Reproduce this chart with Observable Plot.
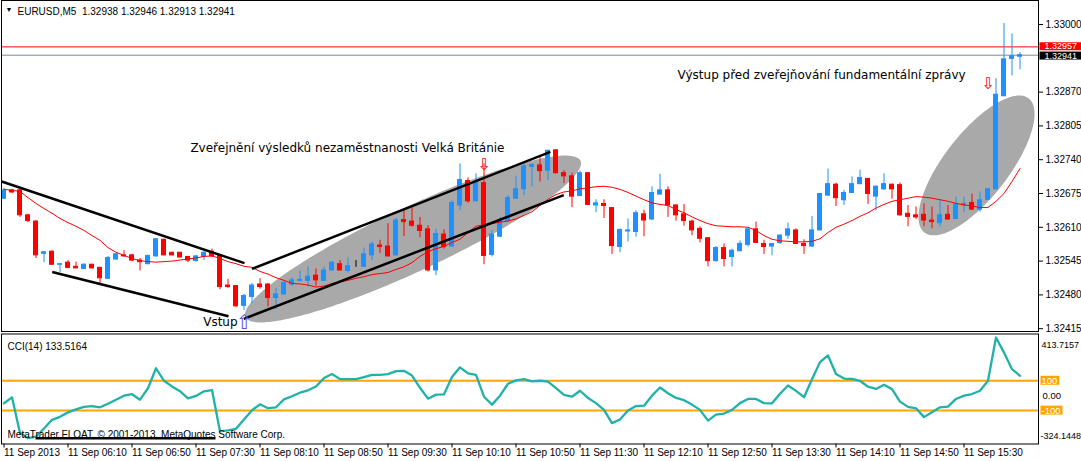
<!DOCTYPE html>
<html><head><meta charset="utf-8">
<script src="https://cdn.jsdelivr.net/npm/d3@7"></script>
<script src="https://cdn.jsdelivr.net/npm/@observablehq/plot@0.6"></script>
<style>
body{margin:0;background:#fff;}
#chart{width:1081px;height:461px;position:relative;overflow:hidden;background:#fff;}
#chart svg{display:block;}
</style></head><body><div id="chart"></div>
<script>
// ---------- DATA ----------
const symbolHeader = "EURUSD,M5\u00a0\u00a01.32938 1.32946 1.32913 1.32941";
const timeLabels = ["11 Sep 2013","11 Sep 06:10","11 Sep 06:50","11 Sep 07:30","11 Sep 08:10","11 Sep 08:50","11 Sep 09:30","11 Sep 10:10","11 Sep 10:50","11 Sep 11:30","11 Sep 12:10","11 Sep 12:50","11 Sep 13:30","11 Sep 14:10","11 Sep 14:50","11 Sep 15:30"];
const timeLabelBars = [0,8,16,24,32,40,48,56,64,72,80,88,96,104,112,120];
const priceTicks = [1.33000,1.32870,1.32805,1.32740,1.32675,1.32610,1.32545,1.32480,1.32415];
const askPrice = 1.32957;
const bidPrice = 1.32941;

const open = [1.32665,1.32681,1.32681,1.32633,1.32621,1.32559,1.32563,1.32538,1.32542,1.32534,1.32530,1.32538,1.32532,1.32511,1.32548,1.32556,1.32556,1.32546,1.32539,1.32554,1.32586,1.32561,1.32561,1.32553,1.32545,1.32553,1.32563,1.32556,1.32498,1.32497,1.32459,1.32476,1.32500,1.32500,1.32474,1.32481,1.32500,1.32507,1.32507,1.32517,1.32507,1.32527,1.32539,1.32526,1.32534,1.32534,1.32556,1.32575,1.32573,1.32556,1.32624,1.32621,1.32613,1.32606,1.32527,1.32596,1.32573,1.32652,1.32699,1.32660,1.32695,1.32557,1.32592,1.32622,1.32665,1.32683,1.32726,1.32729,1.32719,1.32758,1.32714,1.32708,1.32670,1.32714,1.32652,1.32655,1.32647,1.32572,1.32602,1.32601,1.32635,1.32625,1.32673,1.32681,1.32652,1.32635,1.32621,1.32607,1.32589,1.32545,1.32570,1.32553,1.32564,1.32576,1.32606,1.32578,1.32573,1.32580,1.32594,1.32604,1.32578,1.32573,1.32604,1.32671,1.32692,1.32662,1.32676,1.32693,1.32703,1.32669,1.32683,1.32692,1.32691,1.32636,1.32633,1.32634,1.32623,1.32618,1.32634,1.32626,1.32652,1.32657,1.32644,1.32663,1.32683,1.32862,1.32934,1.32938];
const high = [1.32685,1.32683,1.32683,1.32635,1.32623,1.32563,1.32565,1.32540,1.32546,1.32543,1.32540,1.32539,1.32533,1.32554,1.32561,1.32565,1.32558,1.32550,1.32556,1.32588,1.32587,1.32562,1.32562,1.32554,1.32556,1.32563,1.32568,1.32558,1.32510,1.32498,1.32481,1.32502,1.32511,1.32502,1.32492,1.32508,1.32513,1.32526,1.32534,1.32530,1.32534,1.32544,1.32546,1.32551,1.32546,1.32570,1.32582,1.32585,1.32617,1.32627,1.32645,1.32648,1.32629,1.32613,1.32606,1.32605,1.32661,1.32732,1.32705,1.32713,1.32732,1.32604,1.32629,1.32671,1.32708,1.32732,1.32732,1.32746,1.32759,1.32759,1.32719,1.32714,1.32718,1.32715,1.32663,1.32663,1.32648,1.32606,1.32626,1.32642,1.32643,1.32688,1.32712,1.32688,1.32653,1.32654,1.32624,1.32611,1.32590,1.32573,1.32578,1.32568,1.32584,1.32607,1.32620,1.32585,1.32579,1.32596,1.32618,1.32607,1.32586,1.32631,1.32675,1.32722,1.32695,1.32681,1.32707,1.32720,1.32704,1.32690,1.32713,1.32693,1.32695,1.32652,1.32649,1.32655,1.32649,1.32662,1.32652,1.32668,1.32668,1.32674,1.32678,1.32684,1.32896,1.33002,1.32982,1.32946];
const low = [1.32663,1.32675,1.32629,1.32619,1.32550,1.32542,1.32537,1.32523,1.32530,1.32530,1.32529,1.32530,1.32500,1.32510,1.32547,1.32552,1.32544,1.32526,1.32538,1.32553,1.32555,1.32555,1.32551,1.32542,1.32543,1.32546,1.32552,1.32490,1.32493,1.32456,1.32450,1.32463,1.32491,1.32457,1.32452,1.32479,1.32496,1.32506,1.32495,1.32497,1.32506,1.32526,1.32526,1.32522,1.32533,1.32533,1.32546,1.32560,1.32553,1.32555,1.32592,1.32610,1.32590,1.32524,1.32517,1.32568,1.32571,1.32642,1.32656,1.32659,1.32538,1.32553,1.32590,1.32620,1.32664,1.32671,1.32688,1.32697,1.32700,1.32713,1.32694,1.32648,1.32669,1.32652,1.32638,1.32627,1.32558,1.32561,1.32582,1.32591,1.32592,1.32623,1.32672,1.32629,1.32622,1.32612,1.32594,1.32580,1.32534,1.32543,1.32534,1.32534,1.32563,1.32572,1.32579,1.32558,1.32555,1.32577,1.32587,1.32577,1.32558,1.32571,1.32603,1.32670,1.32650,1.32652,1.32675,1.32692,1.32654,1.32642,1.32681,1.32664,1.32631,1.32611,1.32625,1.32611,1.32607,1.32611,1.32623,1.32625,1.32639,1.32642,1.32639,1.32662,1.32682,1.32862,1.32901,1.32913];
const close = [1.32681,1.32677,1.32633,1.32622,1.32556,1.32562,1.32538,1.32539,1.32532,1.32531,1.32538,1.32531,1.32512,1.32551,1.32558,1.32554,1.32546,1.32543,1.32555,1.32587,1.32556,1.32556,1.32552,1.32546,1.32554,1.32561,1.32554,1.32495,1.32495,1.32458,1.32478,1.32498,1.32495,1.32474,1.32481,1.32503,1.32508,1.32509,1.32515,1.32508,1.32527,1.32542,1.32527,1.32535,1.32534,1.32558,1.32577,1.32572,1.32554,1.32623,1.32620,1.32613,1.32603,1.32527,1.32597,1.32572,1.32657,1.32701,1.32660,1.32695,1.32555,1.32596,1.32624,1.32666,1.32683,1.32727,1.32730,1.32718,1.32757,1.32714,1.32708,1.32669,1.32714,1.32653,1.32656,1.32651,1.32574,1.32605,1.32604,1.32637,1.32623,1.32676,1.32681,1.32652,1.32633,1.32622,1.32604,1.32588,1.32545,1.32570,1.32549,1.32565,1.32578,1.32606,1.32580,1.32572,1.32578,1.32594,1.32606,1.32578,1.32574,1.32604,1.32674,1.32693,1.32666,1.32676,1.32693,1.32705,1.32674,1.32688,1.32693,1.32683,1.32633,1.32630,1.32629,1.32623,1.32620,1.32633,1.32625,1.32654,1.32655,1.32644,1.32662,1.32683,1.32865,1.32933,1.32939,1.32941];
const movingAverage = [1.32683,1.32681,1.32679,1.32667,1.32656,1.32646,1.32637,1.32627,1.32619,1.32612,1.32604,1.32594,1.32585,1.32571,1.32562,1.32556,1.32550,1.32546,1.32544,1.32543,1.32544,1.32545,1.32547,1.32549,1.32551,1.32554,1.32555,1.32550,1.32544,1.32540,1.32535,1.32533,1.32525,1.32520,1.32513,1.32508,1.32502,1.32501,1.32499,1.32495,1.32497,1.32502,1.32505,1.32508,1.32512,1.32515,1.32519,1.32521,1.32523,1.32529,1.32534,1.32542,1.32554,1.32563,1.32569,1.32573,1.32581,1.32587,1.32600,1.32612,1.32615,1.32617,1.32620,1.32622,1.32626,1.32633,1.32640,1.32652,1.32664,1.32673,1.32678,1.32680,1.32684,1.32686,1.32688,1.32689,1.32687,1.32683,1.32677,1.32670,1.32663,1.32657,1.32654,1.32652,1.32644,1.32638,1.32630,1.32623,1.32617,1.32613,1.32612,1.32611,1.32611,1.32610,1.32604,1.32594,1.32587,1.32584,1.32583,1.32582,1.32582,1.32583,1.32588,1.32600,1.32610,1.32616,1.32623,1.32631,1.32638,1.32647,1.32654,1.32660,1.32663,1.32666,1.32669,1.32668,1.32666,1.32663,1.32660,1.32656,1.32653,1.32651,1.32648,1.32648,1.32660,1.32675,1.32698,1.32723];
const cciValues = [-51,-11,-250,-285,-275,-220,-162,-142,-112,-92,-75,-70,-78,-54,-27,0,10,-27,50,184,100,62,30,-18,-2,29,38,-240,-233,-222,-160,-98,-58,-84,-78,-25,-4,20,36,62,118,145,111,111,111,125,140,140,145,165,167,135,53,-20,7,9,125,190,150,140,-7,-60,0,80,103,111,96,100,95,50,5,-7,33,-15,-50,-95,-184,-160,-100,-70,-67,0,55,16,-15,-30,-60,-95,-167,-127,-120,-95,-50,-22,-22,-50,-51,13,68,32,-10,110,225,270,145,115,112,100,60,45,73,44,-40,-75,-85,-144,-111,-78,-73,-22,0,11,33,100,390,289,178,133.5164];
const cciLevels = [100, -100];
const cciMax = 413.7157;
const cciMin = -324.1448;
const cciTitle = "CCI(14) 133.5164";
const copyright = "MetaTrader FLOAT, \u00a9 2001-2013, MetaQuotes Software Corp.";

// drawn objects, anchored on (bar, price)
const trendStartBar = [-0.3, 6.03, 31.0, 29.97];
const trendStartPrice = [1.32698, 1.32524, 1.32530, 1.32434];
const trendEndBar = [30.06, 28.06, 68.3, 69.97];
const trendEndPrice = [1.32541, 1.32439, 1.32755, 1.32672];
const ellipseTipA = [{bar: 30.19, price: 1.32437}, {bar: 115.05, price: 1.32600}];
const ellipseTipB = [{bar: 72.06, price: 1.32738}, {bar: 128.08, price: 1.32858}];
const ellipseRatio = [0.173, 0.38];
const noteTexts = ["Zveřejnění výsledků nezaměstnanosti Velká Británie", "Výstup před zveřejňování fundamentální zprávy", "Vstup"];
const noteBars = [23.3, 84.2, 24.9];
const notePrices = [1.32763, 1.32903, 1.32427];
const downArrowBars = [60, 123];
const downArrowPrices = [1.32731, 1.32886];
const upArrowBars = [30];
const upArrowPrices = [1.32426];
const cciStrikeBars = [4, 26.5];
const cciStrikeValue = -285;

// ---------- LAYOUT ----------
const W = 1081;
const xDomain = [-0.3125, 129.3125];
const yDomain = [1.324096, 1.330462];
const mainH = 333, cciH = 128;
const mL = 1, mR = 43;
const BLUE = "#1E90FF", RED = "#FF0000";
const font = "'Liberation Sans', Arial, sans-serif";
const noteFont = "'DejaVu Sans', sans-serif";

const bars = open.map((o, i) => ({i, o, h: high[i], l: low[i], c: close[i]}));
const col = d => d.c > d.o ? BLUE : d.c < d.o ? RED : "#000";

const xS = Plot.scale({x: {domain: xDomain, range: [mL, W - mR]}});
const yS = Plot.scale({y: {domain: yDomain, range: [mainH - 2, 0]}});
function ellipsePts(k) {
  const ax = xS.apply(ellipseTipA[k].bar), ay = yS.apply(ellipseTipA[k].price);
  const bx = xS.apply(ellipseTipB[k].bar), by = yS.apply(ellipseTipB[k].price);
  const cx = (ax + bx) / 2, cy = (ay + by) / 2, ux = (bx - ax) / 2, uy = (by - ay) / 2;
  const vx = -uy * ellipseRatio[k], vy = ux * ellipseRatio[k];
  return d3.range(240).map(j => {
    const t = 2 * Math.PI * j / 240;
    return {x: xS.invert(cx + ux * Math.cos(t) + vx * Math.sin(t)), y: yS.invert(cy + uy * Math.cos(t) + vy * Math.sin(t)), k};
  });
}
const ellipsePoints = ellipsePts(0).concat(ellipsePts(1));
const trends = trendStartBar.map((b, i) => ({x1: b, y1: trendStartPrice[i], x2: trendEndBar[i], y2: trendEndPrice[i]}));
const notes = noteTexts.map((t, i) => ({t, x: noteBars[i], y: notePrices[i]}));

const main = Plot.plot({
  width: W, height: mainH,
  marginLeft: mL, marginRight: mR, marginTop: 0, marginBottom: 2,
  style: {fontFamily: font, fontSize: "10px", color: "#000", background: "#fff", overflow: "visible"},
  x: {domain: xDomain, axis: null},
  y: {domain: yDomain},
  marks: [
    Plot.line(ellipsePoints, {x: "x", y: "y", z: "k", fill: "#a9a9a9", stroke: "none", curve: "linear-closed"}),
    Plot.ruleY([askPrice], {stroke: RED, strokeWidth: 1}),
    Plot.ruleY([bidPrice], {stroke: "#778899", strokeWidth: 1}),
    Plot.ruleX(bars, {x: "i", y1: "l", y2: "h", stroke: col, strokeWidth: 1}),
    Plot.rect(bars, {x1: d => d.i - 0.25, x2: d => d.i + 0.25, y1: "o", y2: "c", fill: col, stroke: col, strokeWidth: 1}),
    Plot.line(movingAverage, {x: (d, i) => i, y: d => d, stroke: RED, strokeWidth: 1}),
    Plot.link(trends, {x1: "x1", y1: "y1", x2: "x2", y2: "y2", stroke: "#000", strokeWidth: 2.5}),
    Plot.text(notes, {x: "x", y: "y", text: "t", textAnchor: "start", fontFamily: noteFont, fontSize: 12, fill: "#000"}),
    Plot.text(downArrowBars, {x: d => d, y: (d, i) => downArrowPrices[i], text: () => "\u21E9", fill: RED, fontSize: 16, fontFamily: noteFont}),
    Plot.text(upArrowBars, {x: d => d, y: (d, i) => upArrowPrices[i], text: () => "\u21E7", fill: "#5a4fe0", fontSize: 20, fontFamily: noteFont}),
    Plot.axisY(priceTicks, {anchor: "right", tickSize: 4, tickPadding: 3, label: null, tickFormat: d3.format(".5f")}),
    Plot.text([askPrice], {y: d => d, frameAnchor: "right", dx: 6, dy: -0.5, textAnchor: "start", text: d => d.toFixed(5), fill: "#fff", fontSize: 9}),
    Plot.text([bidPrice], {y: d => d, frameAnchor: "right", dx: 6, dy: 0.5, textAnchor: "start", text: d => d.toFixed(5), fill: "#fff", fontSize: 9}),
    Plot.text(["\u25BC"], {frameAnchor: "top-left", dx: 4, dy: 7, fontSize: 7, textAnchor: "start"}),
    Plot.text([symbolHeader], {frameAnchor: "top-left", dx: 16, dy: 7, textAnchor: "start"}),
    Plot.frame({stroke: "#000"})
  ]
});

const cciData = cciValues.map((v, i) => ({i, v}));
const cci = Plot.plot({
  width: W, height: cciH,
  marginLeft: mL, marginRight: mR, marginTop: 0.5, marginBottom: 17.5,
  style: {fontFamily: font, fontSize: "10px", color: "#000", background: "#fff", overflow: "visible"},
  x: {domain: xDomain, label: null},
  y: {domain: [cciMin, cciMax], axis: null},
  marks: [
    Plot.ruleY(cciLevels, {stroke: "#FFA500", strokeWidth: 2}),
    Plot.line(cciData, {x: "i", y: "v", stroke: "#20B2AA", strokeWidth: 2.3, clip: true}),
    Plot.text([cciTitle], {frameAnchor: "top-left", dx: 6, dy: 8.5, textAnchor: "start"}),
    Plot.text([copyright], {frameAnchor: "bottom-left", dx: 6, dy: -6, textAnchor: "start"}),
    Plot.ruleY([cciStrikeValue], {x1: cciStrikeBars[0], x2: cciStrikeBars[1], stroke: "#000", strokeWidth: 2.5}),
    Plot.text([cciMax], {frameAnchor: "top-right", dx: 3, dy: 7.5, textAnchor: "start", fontSize: 9, text: d => d.toFixed(4)}),
    Plot.text([cciMin], {frameAnchor: "bottom-right", dx: 2, dy: -5, textAnchor: "start", fontSize: 9, text: d => d.toFixed(4)}),
    Plot.text([0], {y: d => d, frameAnchor: "right", dx: 4, textAnchor: "start", fontSize: 9.5, text: d => d.toFixed(2)}),
    Plot.text(cciLevels, {y: d => d, frameAnchor: "right", dx: 3, textAnchor: "start", fontSize: 9.5, text: d => String(d), fill: "#fff"}),
    Plot.axisX(timeLabelBars, {anchor: "bottom", tickSize: 4, tickPadding: 1, label: null, textAnchor: "start", tickFormat: d => timeLabels[timeLabelBars.indexOf(d)]}),
    Plot.frame({stroke: "#000"})
  ]
});

const chart = document.getElementById("chart");
chart.appendChild(main);
chart.appendChild(cci);

// background boxes behind price tags
function tagBoxes(svg, tags) {
  d3.select(svg).selectAll("text").each(function () {
    const tag = tags.find(t => t.text === this.textContent);
    if (!tag) return;
    const bb = this.getBBox();
    const r = document.createElementNS("http://www.w3.org/2000/svg", "rect");
    r.setAttribute("x", bb.x - tag.padL);
    r.setAttribute("y", bb.y + 1);
    r.setAttribute("width", bb.width + tag.padL + tag.padR);
    r.setAttribute("height", bb.height - 2);
    r.setAttribute("fill", tag.fill);
    const tr = this.getAttribute("transform");
    if (tr) r.setAttribute("transform", tr);
    this.parentNode.insertBefore(r, this);
  });
}
tagBoxes(main, [{text: askPrice.toFixed(5), fill: RED, padL: 5, padR: 6}, {text: bidPrice.toFixed(5), fill: "#000", padL: 5, padR: 6}]);
tagBoxes(cci, [{text: "100", fill: "#FFA500", padL: 1, padR: 2}, {text: "-100", fill: "#FFA500", padL: 1, padR: 2}]);
</script>
</body></html>
